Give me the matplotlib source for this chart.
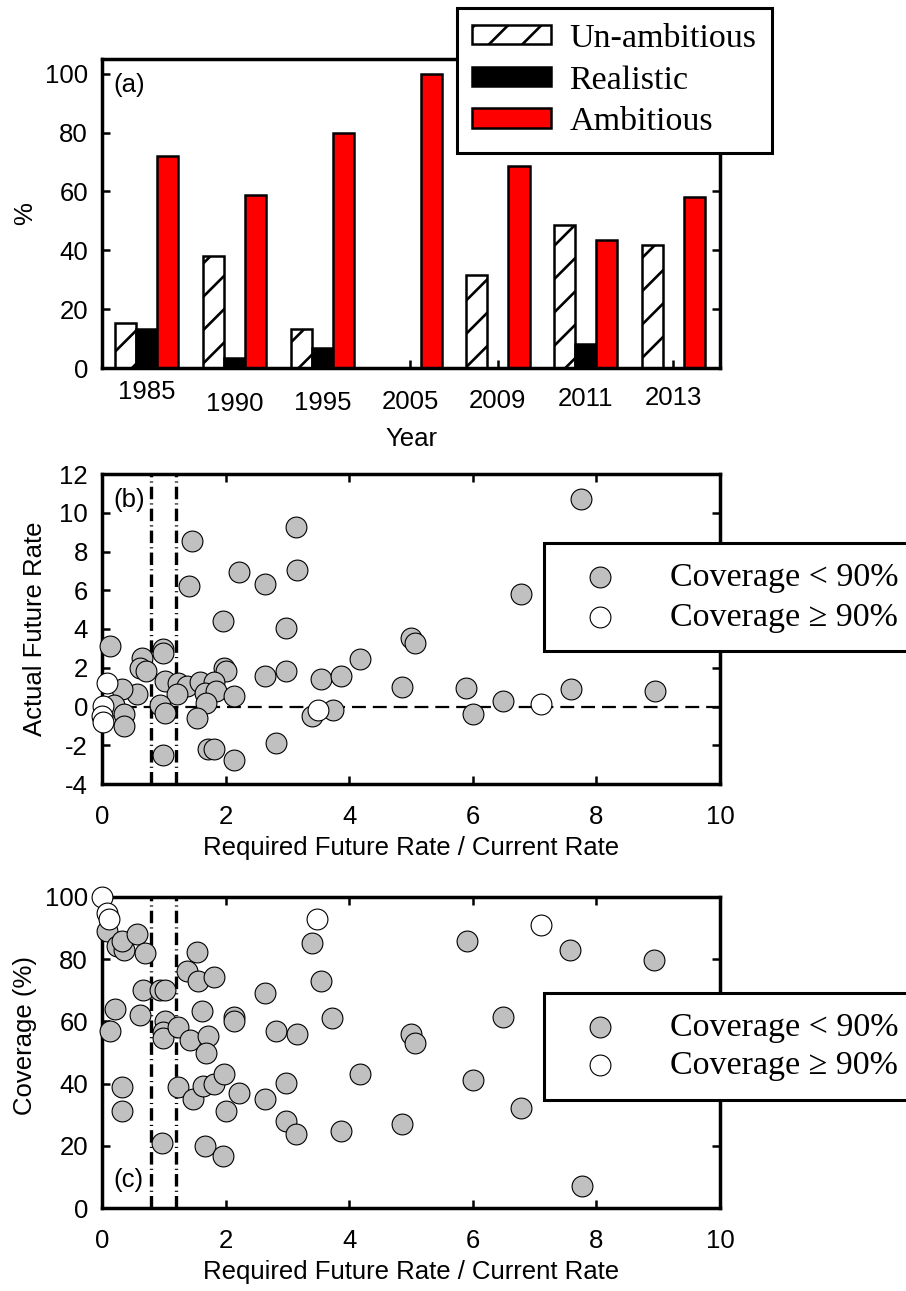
import numpy as np
import matplotlib
matplotlib.use('Agg')
import matplotlib.pyplot as plt
from matplotlib.transforms import ScaledTranslation


# (a) share of targets by year (%)
years = ['1985', '1990', '1995', '2005', '2009', '2011', '2013']
unambitious = [15.3, 37.9, 13.2, 0.0, 31.6, 48.7, 41.9]
realistic = [13.2, 3.4, 6.7, 0.0, 0.0, 8.3, 0.0]
ambitious = [71.9, 58.7, 80.0, 100.0, 68.5, 43.4, 58.1]

# (b) required rate ratio vs actual future rate
b_low_x = [3.14, 1.46, 2.21, 3.15, 2.64, 1.41, 1.96, 2.97, 0.13, 0.98,
           0.99, 0.64, 0.62, 0.71, 1.98, 2.01, 2.63, 2.97, 1.02, 1.23,
           1.38, 1.58, 1.82, 1.66, 1.85, 2.13, 1.21, 1.69, 0.56, 0.32,
           0.19, 0.35, 0.35, 0.94, 1.02, 1.54, 0.99, 1.72, 1.82, 2.14,
           2.82, 3.54, 3.86, 4.17, 3.39, 3.73, 7.75, 6.78, 5.00, 5.07,
           4.85, 5.89, 6.00, 6.49, 7.59, 8.95]
b_low_y = [9.24, 8.52, 6.95, 7.05, 6.31, 6.22, 4.41, 4.03, 3.12, 2.98,
           2.78, 2.52, 2.00, 1.83, 2.00, 1.83, 1.60, 1.83, 1.31, 1.22,
           1.05, 1.26, 1.26, 0.71, 0.79, 0.53, 0.62, 0.19, 0.62, 0.88,
           0.10, -0.41, -1.02, 0.10, -0.33, -0.59, -2.48, -2.19, -2.19, -2.78,
           -1.88, 1.40, 1.60, 2.43, -0.50, -0.16, 10.7, 5.83, 3.55, 3.29,
           1.02, 0.93, -0.41, 0.28, 0.88, 0.79]
b_high_x = [0.08, 0.02, 0.00, 0.02, 3.49, 7.10]
b_high_y = [1.22, 0.02, -0.50, -0.78, -0.16, 0.14]

# (c) required rate ratio vs coverage (%)
c_low_x = [0.08, 0.24, 0.35, 0.32, 0.56, 0.69, 3.40, 1.53, 1.37, 1.56,
           1.82, 3.54, 2.64, 0.67, 0.94, 1.02, 0.21, 0.62, 1.62, 2.14,
           2.13, 3.72, 0.13, 1.02, 0.99, 0.99, 1.23, 1.42, 1.72, 1.69,
           2.82, 3.15, 0.32, 0.33, 1.23, 1.47, 1.64, 1.82, 1.98, 2.21,
           2.64, 2.97, 2.00, 2.97, 3.14, 3.86, 4.17, 0.97, 1.67, 1.96,
           5.90, 7.58, 8.94, 6.49, 5.00, 5.07, 6.00, 6.78, 4.85, 7.76]
c_low_y = [89.2, 84.4, 82.8, 86.0, 88.2, 81.9, 85.2, 82.3, 76.1, 73.1,
           74.2, 73.1, 69.0, 70.1, 70.1, 70.1, 64.0, 62.2, 63.2, 61.3,
           60.0, 61.1, 57.0, 60.2, 56.5, 54.8, 58.1, 54.0, 55.2, 50.0,
           57.0, 55.9, 38.9, 31.2, 38.9, 34.9, 39.2, 39.8, 43.0, 37.1,
           34.9, 40.1, 31.2, 28.0, 23.9, 24.9, 43.0, 21.0, 19.9, 16.7,
           86.0, 83.0, 79.9, 61.3, 56.1, 52.9, 41.1, 32.0, 26.9, 7.2]
c_high_x = [0.00, 0.08, 0.11, 3.48, 7.10]
c_high_y = [100.0, 94.9, 93.0, 93.0, 91.1]

W, H = 906, 1291
serif = ['Liberation Serif', 'DejaVu Serif']

plt.rcParams['font.family'] = ['Liberation Sans', 'DejaVu Sans']
plt.rcParams['font.size'] = 18.5
plt.rcParams['axes.unicode_minus'] = False
plt.rcParams['hatch.linewidth'] = 1.9
plt.rcParams['lines.scale_dashes'] = False


def box(top, bottom):
    return [102 / W, 1 - bottom / H, 618 / W, (bottom - top) / H]


def style(ax, top=True):
    for s in ax.spines.values():
        s.set_linewidth(2.5)
    ax.tick_params(direction='in', length=6, width=1.8, top=top, right=True,
                   labelsize=18.5)
    ax.tick_params(axis='y', pad=10)
    ax.tick_params(axis='x', pad=15)


def scatter_panel(ax, lx, ly, hx, hy):
    ax.axvline(0.8, color='k', lw=2.4, ls=(0, (9, 3, 0.8, 3)), zorder=2)
    ax.axvline(1.2, color='k', lw=2.4, ls=(0, (9, 3, 0.8, 3)), zorder=2)
    ax.scatter(lx, ly, s=225, c='#c0c0c0', edgecolors='black', linewidths=0.8,
               zorder=3, clip_on=False, label='Coverage < 90%')
    ax.scatter(hx, hy, s=225, c='white', edgecolors='black', linewidths=0.8,
               zorder=3, clip_on=False, label='Coverage \u2265 90%')
    ax.set_xlim(0, 10)
    ax.set_xticks(range(0, 11, 2))
    ax.set_xlabel('Required Future Rate / Current Rate', labelpad=5)


def legend_at(ax, x, y, **kw):
    leg = ax.legend(loc='upper left', bbox_to_anchor=(x / W, 1 - y / H),
                    bbox_transform=fig.transFigure, prop={'family': serif, 'size': 24.5},
                    fancybox=False, edgecolor='black', framealpha=1,
                    borderaxespad=0, **kw)
    leg.get_frame().set_linewidth(2.2)
    return leg


fig = plt.figure(figsize=(W / 100, H / 100), dpi=100)

# ---- (a)
ax_a = fig.add_axes(box(59, 368))
x = np.arange(len(years))
w = 0.24
ax_a.bar(x - w, unambitious, w, color='white', edgecolor='black', hatch='/',
         lw=1.8, label='Un-ambitious')
ax_a.bar(x, realistic, w, color='black', edgecolor='black', lw=1.8, label='Realistic')
ax_a.bar(x + w, ambitious, w, color='red', edgecolor='black', lw=1.8, label='Ambitious')
ax_a.set_xlim(-0.51, 6.53)
ax_a.set_ylim(0, 105)
ax_a.set_yticks(range(0, 101, 20))
ax_a.set_xticks(x)
ax_a.set_xticklabels(years)
style(ax_a, top=False)
# tick labels in the original sit at slightly uneven heights
offs = [9, -3, -2, -1, 0, 2, 3]
for lbl, o in zip(ax_a.get_xticklabels(), offs):
    lbl.set_transform(lbl.get_transform() + ScaledTranslation(0, o / 100, fig.dpi_scale_trans))
ax_a.set_xlabel('Year', labelpad=8)
ax_a.set_ylabel('%')
ax_a.yaxis.set_label_coords(-0.105, 0.5)
ax_a.text(0.018, 0.916, '(a)', transform=ax_a.transAxes, va='center', ha='left')
legend_at(ax_a, 457, 8, borderpad=0.45, handlelength=2.3, handleheight=0.5,
          handletextpad=0.55, labelspacing=0.33)

# ---- (b)
ax_b = fig.add_axes(box(474, 784))
ax_b.axhline(0, color='k', lw=1.6, ls=(0, (10, 5)), zorder=2)
scatter_panel(ax_b, b_low_x, b_low_y, b_high_x, b_high_y)
ax_b.set_ylim(-4, 12)
ax_b.set_yticks(range(-4, 13, 2))
style(ax_b)
ax_b.set_ylabel('Actual Future Rate')
ax_b.yaxis.set_label_coords(-0.089, 0.5)
ax_b.text(0.018, 0.916, '(b)', transform=ax_b.transAxes, va='center', ha='left')
legend_at(ax_b, 544, 543, scatterpoints=1, borderpad=0.55, handlelength=2.2,
          handletextpad=0.95, labelspacing=0.27)

# ---- (c)
ax_c = fig.add_axes(box(897, 1208))
scatter_panel(ax_c, c_low_x, c_low_y, c_high_x, c_high_y)
ax_c.set_ylim(0, 100)
ax_c.set_yticks(range(0, 101, 20))
style(ax_c)
ax_c.set_ylabel('Coverage (%)')
ax_c.yaxis.set_label_coords(-0.105, 0.556)
ax_c.text(0.018, 0.09, '(c)', transform=ax_c.transAxes, va='center', ha='left')
legend_at(ax_c, 544, 993, scatterpoints=1, borderpad=0.55, handlelength=2.2,
          handletextpad=0.95, labelspacing=0.22)

fig.savefig('out.png', dpi=100)
